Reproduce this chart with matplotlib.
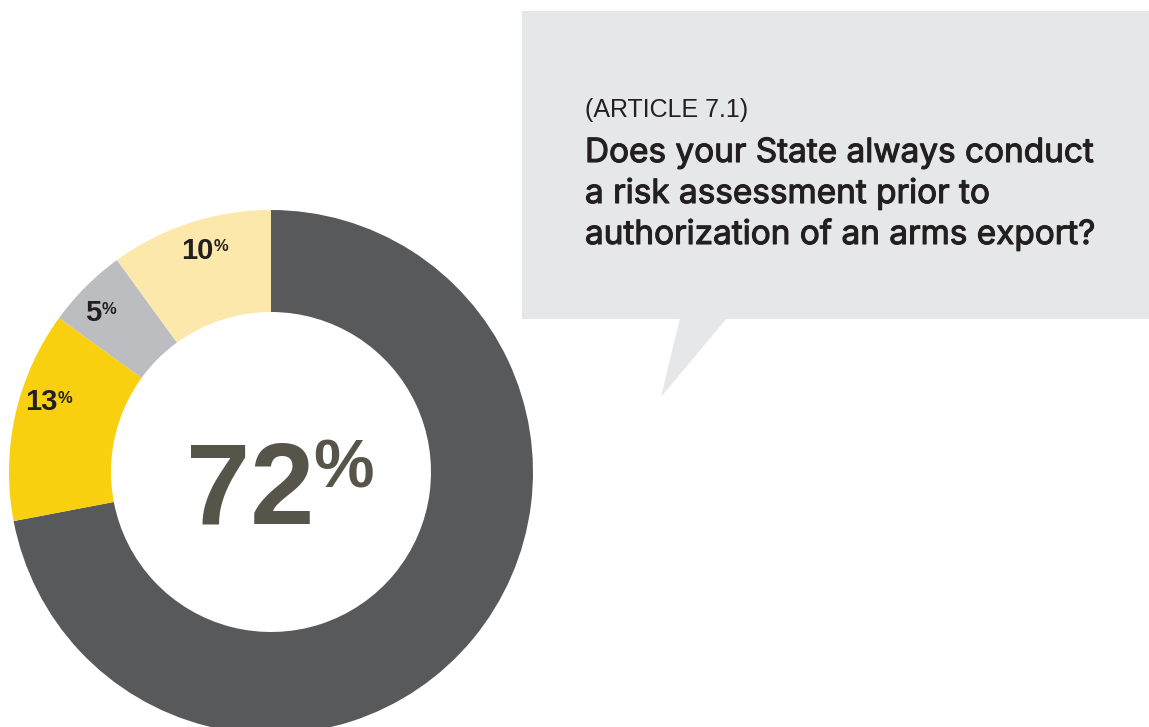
import matplotlib.pyplot as plt
from matplotlib.patches import Rectangle, Polygon
import matplotlib.patheffects as pe
import numpy as np

# answer shares, clockwise from 12 o'clock
labels = ['Yes', 'No', 'Other', 'No answer']
shares = [72, 13, 5, 10]
colors = ['#58595b', '#f9d00f', '#bcbdc1', '#fde8ac']

article = '(ARTICLE 7.1)'
question = ['Does your State always conduct',
            'a risk assessment prior to',
            'authorization of an arms export?']

W, H = 1149, 727
fig = plt.figure(figsize=(W / 100, H / 100), dpi=100)
ax = fig.add_axes([0, 0, 1, 1])

font = 'Liberation Sans'
ink = '#231f20'

# donut
cx, cy, R, ring = 271, H - 472, 262, 102
ax.pie(shares, colors=colors, center=(cx, cy), radius=R, startangle=90,
       counterclock=False, wedgeprops=dict(width=ring, linewidth=0),
       frame=True)
ax.set_xlim(0, W)
ax.set_ylim(0, H)
ax.set_aspect('equal')
ax.axis('off')

# small labels on the ring (not on the big slice); hand nudges in pixels
nudge = [(0, 0), (2, 20), (-10, -7), (0, -2)]
total = sum(shares)
acc = 0
for i, v in enumerate(shares):
    mid = (acc + v / 2) / total
    acc += v
    if i == 0:
        continue
    ang = np.deg2rad(90 - mid * 360)
    r = 237
    x = cx + r * np.cos(ang) + nudge[i][0]
    y = cy + r * np.sin(ang) + nudge[i][1]
    t = ax.text(x, y - 10, str(v), ha='center', va='baseline',
                fontsize=21, fontweight='bold', color=ink, family=font)
    ax.annotate('%', xy=(1, 1), xycoords=t, xytext=(0, -2),
                textcoords='offset points', ha='left', va='top',
                fontsize=12, fontweight='bold', color=ink, family=font)

# big centre number
ax.text(cx - 21, cy - 51, str(shares[0]), ha='center', va='baseline',
        fontsize=83, fontweight='bold', color='#57544a', family=font)
ax.text(cx + 42, cy + 34, '%', ha='left', va='top',
        fontsize=49, fontweight='bold', color='#57544a', family=font)

# speech bubble
bub = '#e6e7e8'
ax.add_patch(Rectangle((522, H - 319), W - 522 + 5, 308, facecolor=bub,
                       edgecolor='none'))
ax.add_patch(Polygon([(680, H - 318), (727, H - 318), (661, H - 397)],
                     closed=True, facecolor=bub, edgecolor='none'))

ax.text(585, H - 117, article, ha='left', va='baseline', fontsize=18,
        color=ink, family=font)
medium = [pe.withStroke(linewidth=0.8, foreground=ink)]
for k, line in enumerate(question):
    ax.text(585, H - 162 - k * 41, line, ha='left', va='baseline',
            fontsize=24, color=ink, family=['Inter', 'Liberation Sans'],
            path_effects=medium)

fig.savefig('out.png', dpi=100)
